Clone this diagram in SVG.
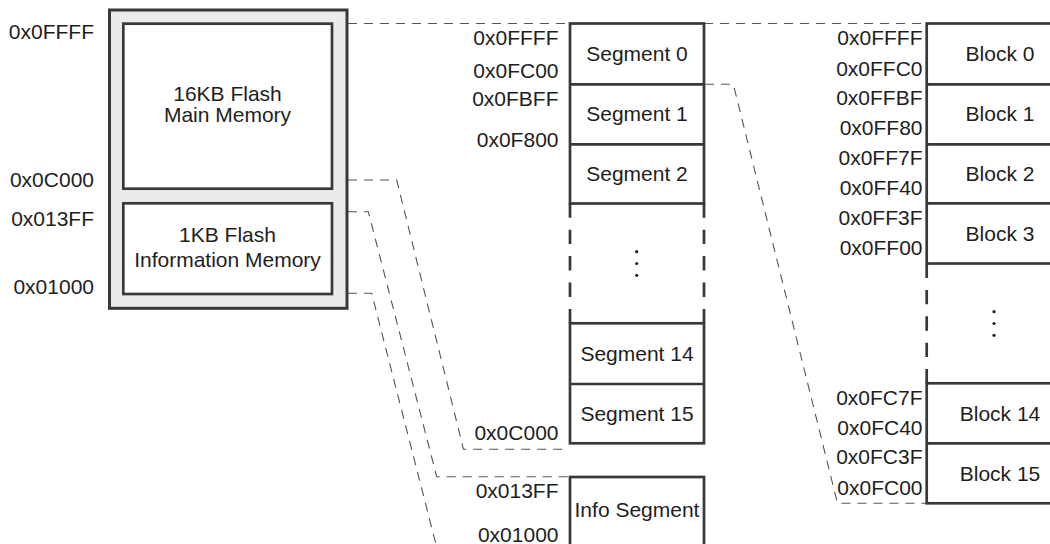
<svg xmlns="http://www.w3.org/2000/svg" width="1050" height="544" viewBox="0 0 1050 544">
<style>
text{font-family:"Liberation Sans",Arial,sans-serif;font-size:21px;fill:#1e1e1e}
.r{text-anchor:end}
.c{text-anchor:middle}
.box{fill:#fff;stroke:#383838;stroke-width:2.7}
.ln{stroke:#383838;stroke-width:2.7;fill:none}
.dsh{stroke:#383838;stroke-width:2.7;fill:none;stroke-dasharray:14.4 12}
.con{stroke:#555;stroke-width:1.1;fill:none;stroke-dasharray:9 7}
.dot{fill:#222}
</style>
<g id="connectors">
<path class="con" d="M348,23.5 H570 M704,23.5 H926"/>
<path class="con" d="M705,84.3 H733.3 L837.5,503.3 H926"/>
<path class="con" d="M348,180 H396.7 L463.5,449.3 H569"/>
<path class="con" d="M348,211.7 H368.3 L436.7,476.7 H569"/>
<path class="con" d="M348,293.3 H371.7 L440,560"/>
</g>
<g id="flash">
<rect x="109.5" y="10" width="237.5" height="298.3" fill="#ebebeb" stroke="#383838" stroke-width="3"/>
<g id="main-memory">
<rect class="box" x="123.3" y="23.7" width="208.7" height="165"/>
<text class="c" x="227.5" y="100.5">16KB Flash</text>
<text class="c" x="227.5" y="121.7">Main Memory</text>
</g>
<g id="info-memory">
<rect class="box" x="123.3" y="203.3" width="208.7" height="90.7"/>
<text class="c" x="227.5" y="241.7">1KB Flash</text>
<text class="c" x="227.5" y="266.7">Information Memory</text>
</g>
<text class="r" x="94" y="38.5">0x0FFFF</text>
<text class="r" x="94" y="187">0x0C000</text>
<text class="r" x="94" y="226">0x013FF</text>
<text class="r" x="94" y="293.5">0x01000</text>
</g>
<g id="segments">
<rect class="box" x="570" y="23.5" width="134" height="180"/>
<line class="ln" x1="570" y1="84.3" x2="704" y2="84.3"/>
<line class="ln" x1="570" y1="144.3" x2="704" y2="144.3"/>
<path class="dsh" d="M570,203.3 V323.3 M704,203.3 V323.3"/>
<rect class="box" x="570" y="323.3" width="134" height="120"/>
<line class="ln" x1="570" y1="384" x2="704" y2="384"/>
<text class="c" x="637" y="60.5">Segment 0</text>
<text class="c" x="637" y="120.5">Segment 1</text>
<text class="c" x="637" y="180.5">Segment 2</text>
<circle class="dot" cx="636.7" cy="251.7" r="1.6"/>
<circle class="dot" cx="636.7" cy="263.5" r="1.6"/>
<circle class="dot" cx="636.7" cy="275.3" r="1.6"/>
<text class="c" x="637" y="360.5">Segment 14</text>
<text class="c" x="637" y="420.5">Segment 15</text>
<text class="r" x="558.5" y="45">0x0FFFF</text>
<text class="r" x="558.5" y="78">0x0FC00</text>
<text class="r" x="558.5" y="106">0x0FBFF</text>
<text class="r" x="558.5" y="146.7">0x0F800</text>
<text class="r" x="558.5" y="440">0x0C000</text>
</g>
<g id="info-segment">
<rect class="box" x="570" y="477" width="134" height="90"/>
<text class="c" x="637" y="516.5">Info Segment</text>
<text class="r" x="558.5" y="498">0x013FF</text>
<text class="r" x="558.5" y="541.5">0x01000</text>
</g>
<g id="blocks">
<rect class="box" x="926.7" y="23.5" width="147" height="240"/>
<line class="ln" x1="926.7" y1="84.3" x2="1074" y2="84.3"/>
<line class="ln" x1="926.7" y1="144.3" x2="1074" y2="144.3"/>
<line class="ln" x1="926.7" y1="203.3" x2="1074" y2="203.3"/>
<path class="dsh" d="M926.7,263.5 V383.5"/>
<rect class="box" x="926.7" y="383.3" width="147" height="120"/>
<line class="ln" x1="926.7" y1="443.3" x2="1074" y2="443.3"/>
<text class="c" x="1000" y="60.5">Block 0</text>
<text class="c" x="1000" y="120.5">Block 1</text>
<text class="c" x="1000" y="180.5">Block 2</text>
<text class="c" x="1000" y="240.5">Block 3</text>
<circle class="dot" cx="994" cy="311.7" r="1.6"/>
<circle class="dot" cx="994" cy="323.5" r="1.6"/>
<circle class="dot" cx="994" cy="335.3" r="1.6"/>
<text class="c" x="1000" y="420.5">Block 14</text>
<text class="c" x="1000" y="480.5">Block 15</text>
<text class="r" x="922.5" y="45">0x0FFFF</text>
<text class="r" x="922.5" y="76">0x0FFC0</text>
<text class="r" x="922.5" y="105">0x0FFBF</text>
<text class="r" x="922.5" y="135">0x0FF80</text>
<text class="r" x="922.5" y="165">0x0FF7F</text>
<text class="r" x="922.5" y="195">0x0FF40</text>
<text class="r" x="922.5" y="225">0x0FF3F</text>
<text class="r" x="922.5" y="255">0x0FF00</text>
<text class="r" x="922.5" y="405">0x0FC7F</text>
<text class="r" x="922.5" y="435">0x0FC40</text>
<text class="r" x="922.5" y="464">0x0FC3F</text>
<text class="r" x="922.5" y="495">0x0FC00</text>
</g>
</svg>
